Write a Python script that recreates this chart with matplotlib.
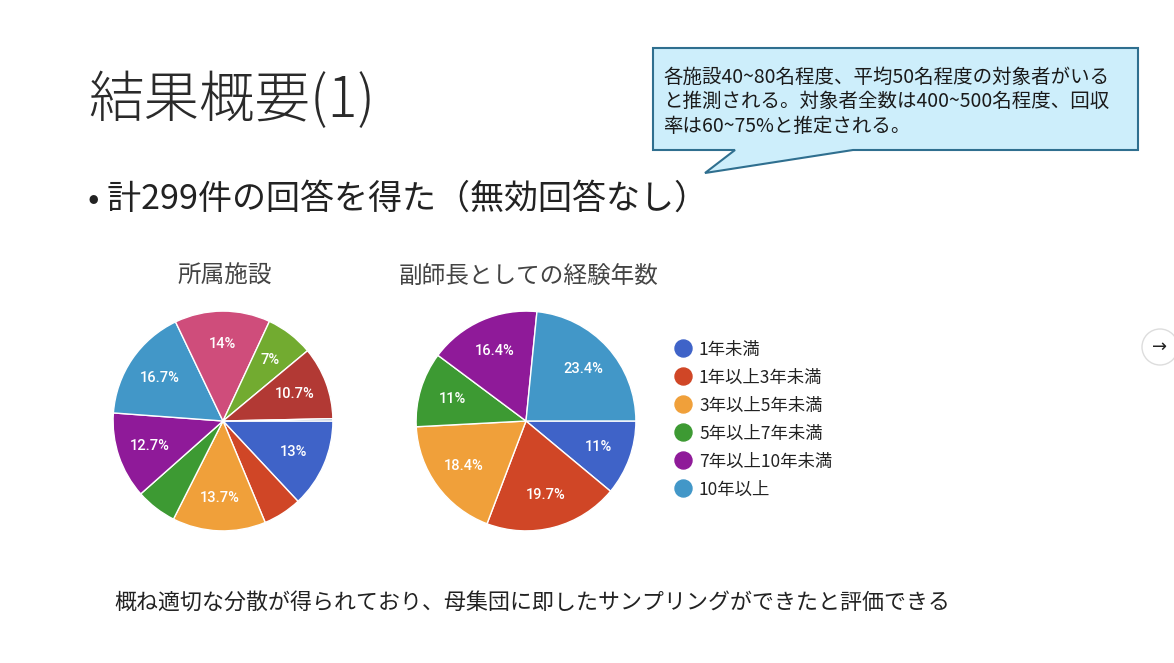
import matplotlib
matplotlib.use("Agg")
import matplotlib.pyplot as plt
from matplotlib.patches import Polygon, Circle

plt.rcParams['font.family'] = ['Noto Sans CJK JP', 'DejaVu Sans']

# ---- data ----
title_text = "結果概要(1)"
bullet_text = "• 計299件の回答を得た（無効回答なし）"
callout_lines = ["各施設40~80名程度、平均50名程度の対象者がいる",
                 "と推測される。対象者全数は400~500名程度、回収",
                 "率は60~75%と推定される。"]
bottom_text = "概ね適切な分散が得られており、母集団に即したサンプリングができたと評価できる"

pie1_title = "所属施設"
pie1_counts = [39, 17, 41, 18, 38, 50, 42, 21, 32, 1]
pie1_labels = ["13%", "", "13.7%", "", "12.7%", "16.7%", "14%", "7%", "10.7%", ""]
pie1_colors = ["#3f63c8", "#d04626", "#f0a03a", "#3d9a33", "#8f1a99",
               "#4297c8", "#cf4d7b", "#72ab30", "#b23934", "#9aaec4"]

pie2_title = "副師長としての経験年数"
pie2_categories = ["1年未満", "1年以上3年未満", "3年以上5年未満",
                   "5年以上7年未満", "7年以上10年未満", "10年以上"]
pie2_counts = [33, 59, 55, 33, 49, 70]
pie2_labels = ["11%", "19.7%", "18.4%", "11%", "16.4%", "23.4%"]
pie2_colors = ["#3f63c8", "#d04626", "#f0a03a", "#3d9a33", "#8f1a99", "#4297c8"]

W, H = 1174, 663
fig = plt.figure(figsize=(W / 100, H / 100), dpi=100)
fig.patch.set_facecolor("white")

bg = fig.add_axes([0, 0, 1, 1])
bg.set_xlim(0, W)
bg.set_ylim(H, 0)
bg.axis("off")

# title & bullet
bg.text(88, 101, title_text, fontsize=40, fontweight="light", color="#2a2a2a",
        va="center", ha="left")
bg.text(88, 199, bullet_text, fontsize=24.5, color="#222222", va="center", ha="left")

# callout
callout = Polygon([(653, 48), (1138, 48), (1138, 150), (853, 150), (705, 173),
                   (735, 150), (653, 150)], closed=True,
                  facecolor="#cdeefb", edgecolor="#2f6f8f", linewidth=1.5)
bg.add_patch(callout)
for i, line in enumerate(callout_lines):
    bg.text(663, 77 + 24.5 * i, line, fontsize=14, color="#1a1a1a",
            va="center", ha="left")

# pie titles
bg.text(225, 276, pie1_title, fontsize=17, color="#444444", va="center", ha="center")
bg.text(529, 276, pie2_title, fontsize=17, color="#444444", va="center", ha="center")

# bottom text
bg.text(114, 603, bottom_text, fontsize=15.8, color="#222222", va="center", ha="left")

# nav arrow circle
bg.add_patch(Circle((1160, 347), 18, facecolor="white", edgecolor="#dddddd", linewidth=1))
bg.text(1160, 347, "→", fontsize=13, color="#222222", va="center", ha="center",
        family=["DejaVu Sans"])


def add_pie(cx, cy, r, counts, labels, colors):
    ax = fig.add_axes([(cx - r) / W, (H - cy - r) / H, 2 * r / W, 2 * r / H])
    ax.pie(counts, labels=labels, colors=colors, startangle=0, counterclock=False,
           labeldistance=0.70, radius=1.0,
           wedgeprops=dict(edgecolor="white", linewidth=1.0),
           textprops=dict(color="white", fontsize=10.5, fontweight="medium",
                          family=["Roboto", "DejaVu Sans"],
                          ha="center", va="center"))
    ax.set_xlim(-1.01, 1.01)
    ax.set_ylim(-1.01, 1.01)
    ax.set_aspect("equal")
    ax.axis("off")
    return ax


ax1 = add_pie(223, 421, 111, pie1_counts, pie1_labels, pie1_colors)
ax2 = add_pie(526, 421, 111, pie2_counts, pie2_labels, pie2_colors)

# legend for pie 2
for i, (cat, col) in enumerate(zip(pie2_categories, pie2_colors)):
    y = 348 + 28 * i
    bg.scatter([683], [y], s=150, color=col, zorder=3)
    bg.text(699, y + 2, cat, fontsize=12.5, color="#222222", va="center", ha="left")

fig.savefig("out.png", dpi=100)
